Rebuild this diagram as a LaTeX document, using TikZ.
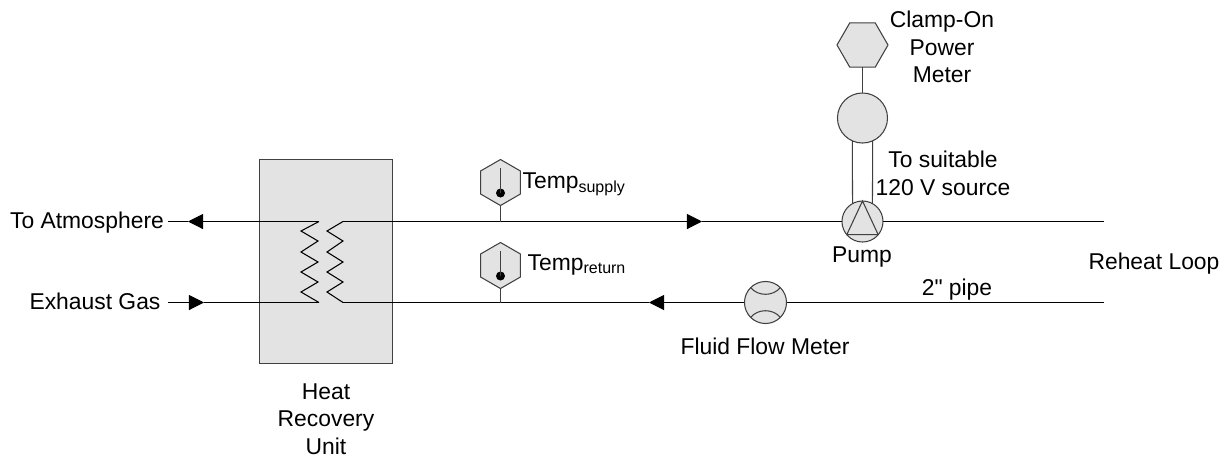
\documentclass[tikz,border=0pt]{standalone}
\usepackage{fontspec}
\setmainfont{Liberation Sans}
\newfontfamily\plainquote{Liberation Sans}
\usetikzlibrary{arrows.meta,shapes.geometric}
\definecolor{unitgray}{HTML}{E3E3E3}
\definecolor{wiregray}{HTML}{404040}
\tikzstyle{pipe} = [black,line width=0.3pt]
\tikzstyle{wire} = [wiregray,line width=0.3pt]
\tikzstyle{flowtip} = [pipe,-{Triangle[length=0.15cm,width=0.15cm]}]
\tikzstyle{instr} = [circle,draw=wiregray,fill=unitgray,line width=0.3pt,inner sep=0pt,outer sep=0pt]
\tikzstyle{hexa} = [regular polygon,regular polygon sides=6,draw=wiregray,fill=unitgray,line width=0.3pt,inner sep=0pt,outer sep=0pt]
\tikzstyle{txt} = [inner sep=0pt,align=center,font=\fontsize{6.5}{7.8}\selectfont]
\tikzstyle{lab} = [txt,anchor=base]

\begin{document}
\begin{tikzpicture}[x=0.01cm,y=-0.01cm]
  \def\xbox{326,261.5}
  \def\xpump{862.5,221.5}
  \def\xflow{765.5,302.5}
  \def\xpower{862.5,118}
  \def\xclamp{862.5,45}
  \def\xts{500.5,182.5}
  \def\xtr{500.5,265.5}
  \useasboundingbox (0,0) rectangle (1226,460);
  \node[draw=wiregray,fill=unitgray,line width=0.3pt,minimum width=1.32cm,minimum height=2.03cm,inner sep=0pt,outer sep=0pt] (unit) at (\xbox) {};
  % pipe ends
  \coordinate (atm) at (168,221.5);
  \coordinate (gas) at (168,302.5);
  \coordinate (tipa) at (188,221.5);
  \coordinate (tipb) at (204,302.5);
  \coordinate (tipc) at (702,221.5);
  \coordinate (tipd) at (649,302.5);
  \coordinate (loopa) at (1104,221.5);
  \coordinate (loopb) at (1104,302.5);
  \coordinate (coila) at (319,221.5);
  \coordinate (coilb) at (319,302.5);
  \coordinate (coilc) at (343,221.5);
  \coordinate (coild) at (343,302.5);
  \coordinate (teea) at (500.5,221.5);
  \coordinate (teeb) at (500.5,302.5);
  % instruments
  \node[instr,minimum size=0.41cm] (pump) at (\xpump) {};
  \node[instr,minimum size=0.42cm] (flow) at (\xflow) {};
  \node[instr,minimum size=0.5cm] (power) at (\xpower) {};
  \node[hexa,minimum size=0.51cm] (clamp) at (\xclamp) {};
  \node[hexa,shape border rotate=30,minimum size=0.46cm] (tsup) at (\xts) {};
  \node[hexa,shape border rotate=30,minimum size=0.46cm] (tret) at (\xtr) {};
  \draw[pipe] (tipa) -- (atm);
  \draw[flowtip] (coila) -- (tipa);
  \draw[flowtip] (gas) -- (tipb);
  \draw[pipe] (tipb) -- (coilb);
  \draw[flowtip] (coilc) -- (tipc);
  \draw[pipe] (tipc) -- (pump.west);
  \draw[pipe] (pump.east) -- (loopa);
  \draw[pipe] (loopb) -- (flow.east);
  \draw[flowtip] (flow.west) -- (tipd);
  \draw[pipe] (tipd) -- (coild);
  % coils
  \draw[pipe] (coila) -- (301,231) -- (318,241) -- (301,252) -- (318,262) -- (301,272) -- (318,282) -- (301,292) -- (coilb);
  \draw[pipe] (coilc) -- (327,231) -- (343,241) -- (327,252) -- (343,262) -- (327,272) -- (343,282) -- (327,292) -- (coild);
  % thermometers
  \draw[wire] (tsup.south) -- (teea);
  \draw[wire] (tret.south) -- (teeb);
  \fill[black] (500.5,193) circle (4.5) coordinate (bulba);
  \fill[black] (500.5,276) circle (4.5) coordinate (bulbb);
  \draw[wire] (bulba) -- (500.5,168);
  \draw[wire] (bulbb) -- (500.5,251);
  % pump, flow meter, power meter
  \draw[wire] (pump.north) -- (pump.220) -- (pump.320) -- cycle;
  \draw[wire] (flow.135) to[bend right=50] (flow.45);
  \draw[wire] (flow.225) to[bend left=50] (flow.315);
  \draw[wire] (clamp.south) -- (power.north);
  \draw[wire] (power.246) -- (pump.119);
  \draw[wire] (power.294) -- (pump.61);
  % labels
  \node[lab] (latm) at (87,228) {To Atmosphere};
  \node[lab] (lgas) at (95,309) {Exhaust Gas};
  \node[txt] (lunit) at (326,419) {Heat\\Recovery\\Unit};
  \node[txt] (lclamp) at (942,47) {Clamp-On\\Power\\Meter};
  \node[txt] (lsrc) at (943,173.5) {To suitable\\120 V source};
  \node[lab] (lpump) at (862,262) {Pump};
  \node[lab] (lpipe) at (957,295) {\plainquote 2" pipe};
  \node[lab] (lloop) at (1154,269) {Reheat Loop};
  \node[lab] (lflow) at (765,354) {Fluid Flow Meter};
  \node[txt,anchor=base west] (ltsup) at (522,188) {Temp\textsubscript{supply}};
  \node[txt,anchor=base west] (ltret) at (527,270) {Temp\textsubscript{return}};
\end{tikzpicture}
\end{document}
